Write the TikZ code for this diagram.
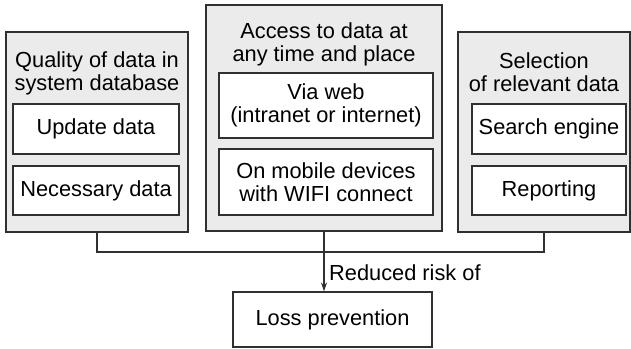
\documentclass[tikz,border=0pt]{standalone}
\usepackage{fontspec}
\setmainfont{Liberation Sans}
\usetikzlibrary{arrows.meta}
\definecolor{panelfill}{HTML}{EBEBEB}
\definecolor{edge}{HTML}{303030}
\tikzset{
  panel/.style={draw=edge, fill=panelfill, line width=1.1pt, inner sep=0pt},
  itembox/.style={draw=edge, fill=white, line width=1.1pt, inner sep=0pt, align=center,
    font=\fontsize{21.8}{22.5}\selectfont},
  heading/.style={align=center, inner sep=0pt, font=\fontsize{21.8}{23}\selectfont},
  link/.style={draw=edge, line width=1.1pt},
}
\begin{document}
\begin{tikzpicture}[x=1pt, y=-1pt]
\useasboundingbox (0,0) rectangle (631,348);

% three grouping panels
\node[panel, minimum width=182pt, minimum height=200pt] (quality) at (97,132) {};
\node[panel, minimum width=236pt, minimum height=226pt] (access) at (324,118) {};
\node[panel, minimum width=172pt, minimum height=200pt] (select) at (544,132) {};

% panel headings
\node[heading] (qhead) at (97,73.5) {Quality of data in\\system database};
\node[heading] (ahead) at (324,44) {Access to data at\\any time and place};
\node[heading] (shead) at (544,72) {Selection\\of relevant data};

% items inside the panels
\node[itembox, minimum width=166pt, minimum height=50pt] (update) at (96,129) {Update data};
\node[itembox, minimum width=166pt, minimum height=49pt] (necessary) at (96,190.5) {Necessary data};
\node[itembox, minimum width=214pt, minimum height=65pt] (web) at (326,105.5) {Via web\\(intranet or internet)};
\node[itembox, minimum width=214pt, minimum height=66pt] (mobile) at (326,182) {On mobile devices\\with WIFI connect};
\node[itembox, minimum width=154pt, minimum height=50pt] (search) at (549,129) {Search engine};
\node[itembox, minimum width=154pt, minimum height=49pt] (report) at (549,190.5) {Reporting};

% outcome
\node[itembox, minimum width=199pt, minimum height=55pt] (loss) at (332.5,319.5) {Loss prevention};

% connectors
\coordinate (bus) at (0,252);
\draw[link] (quality.south) -- (quality.south |- bus) -- (select.south |- bus) -- (select.south);
\draw[link, -{Stealth[length=9pt, width=6pt]}] (access.south) -- (access.south |- loss.north);
\node[heading, anchor=west] (risk) at (329,273) {Reduced risk of};
\end{tikzpicture}
\end{document}
